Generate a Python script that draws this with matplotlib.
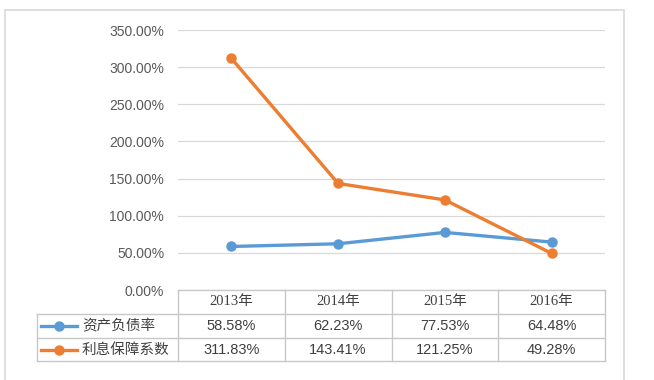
import matplotlib.pyplot as plt
from matplotlib.lines import Line2D
from matplotlib.patches import Rectangle

years = ['2013年', '2014年', '2015年', '2016年']
debt_ratio = [58.58, 62.23, 77.53, 64.48]
interest_cover = [311.83, 143.41, 121.25, 49.28]
series_names = ['资产负债率', '利息保障系数']
colors = ['#5B9BD5', '#ED7D31']

W, H = 654, 380
fig = plt.figure(figsize=(W / 100, H / 100), dpi=100)

def fx(x):
    return x / W

def fy(y):
    return 1 - y / H

# outer chart frame
fig.patches.append(Rectangle((fx(5), fy(395)), fx(624) - fx(5), fy(10) - fy(395),
                             transform=fig.transFigure, fill=False,
                             edgecolor='#D9D9D9', lw=1.2))

left, right, top, bottom = 178, 605, 30, 290
ax = fig.add_axes([fx(left), fy(bottom), fx(right) - fx(left), fy(top) - fy(bottom)])

x = range(len(years))
for vals, c in zip([debt_ratio, interest_cover], colors):
    ax.plot(x, vals, color=c, lw=2.4, marker='o', markersize=6.5, solid_capstyle='round')

ax.set_xlim(-0.5, len(years) - 0.5)
ax.set_ylim(0, 350)
ax.set_yticks(range(0, 351, 50))
ax.set_yticklabels(['%.2f%%' % v for v in range(0, 351, 50)],
                   fontsize=10, color='#595959', family='Liberation Sans')
ax.set_xticks([])
ax.tick_params(axis='y', length=0, pad=10)
ax.grid(axis='y', color='#D9D9D9', lw=0.9)
ax.set_axisbelow(True)
for s in ax.spines.values():
    s.set_visible(False)

# data table below the plot
gc = '#C8C8C8'
col_x = [left + i * (right - left) / len(years) for i in range(len(years) + 1)]
rows_y = [290, 314, 338, 361]
lab_left = 37

def hline(y, x0, x1):
    fig.add_artist(Line2D([fx(x0), fx(x1)], [fy(y), fy(y)], color=gc, lw=1,
                          transform=fig.transFigure))

def vline(x, y0, y1):
    fig.add_artist(Line2D([fx(x), fx(x)], [fy(y0), fy(y1)], color=gc, lw=1,
                          transform=fig.transFigure))

hline(rows_y[0], left, right)
for y in rows_y[1:]:
    hline(y, lab_left, right)
for cx in col_x:
    vline(cx, rows_y[0], rows_y[-1])
vline(lab_left, rows_y[1], rows_y[-1])

fam = ['Liberation Sans', 'Noto Sans CJK SC']
for i, yr in enumerate(years):
    cx = (col_x[i] + col_x[i + 1]) / 2
    fig.text(fx(cx), fy((rows_y[0] + rows_y[1]) / 2), yr, ha='center', va='center',
             fontsize=10.5, color='#404040', family=['Liberation Serif', 'Noto Sans CJK SC'])

for r, (name, vals, c) in enumerate(zip(series_names, [debt_ratio, interest_cover], colors)):
    yc = (rows_y[r + 1] + rows_y[r + 2]) / 2
    fig.add_artist(Line2D([fx(41), fx(77)], [fy(yc), fy(yc)], color=c, lw=2.4,
                          transform=fig.transFigure))
    fig.add_artist(Line2D([fx(59)], [fy(yc)], color=c, marker='o', markersize=6.5,
                          transform=fig.transFigure))
    fig.text(fx(82), fy(yc), name, ha='left', va='center', fontsize=10.5,
             color='#404040', family=['Noto Sans CJK SC'], fontweight='light')
    for i, v in enumerate(vals):
        cx = (col_x[i] + col_x[i + 1]) / 2
        fig.text(fx(cx), fy(yc), '%.2f%%' % v, ha='center', va='center',
                 fontsize=10.5, color='#404040', family=fam)

fig.savefig('out.png', dpi=100)
